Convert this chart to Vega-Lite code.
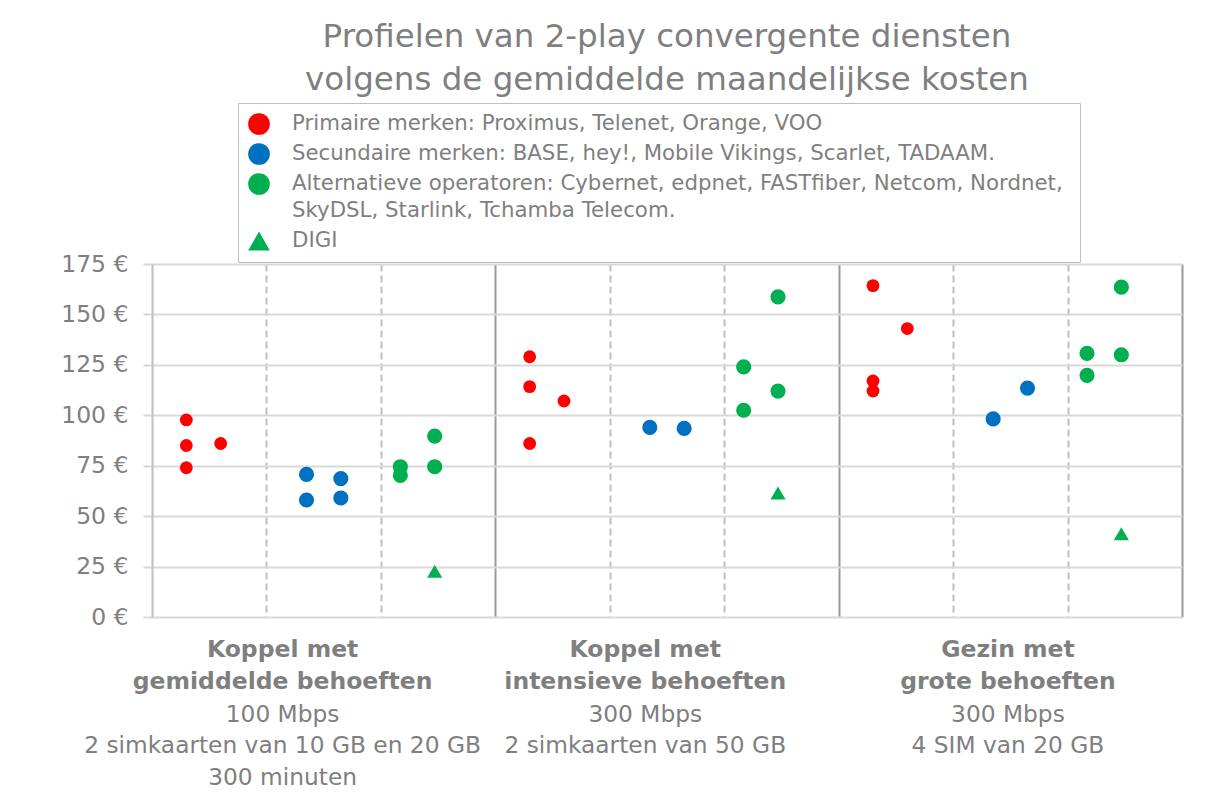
{
  "$schema": "https://vega.github.io/schema/vega-lite/v6.json",
  "autosize": {"type": "none"},
  "padding": {"left": 152, "top": 264, "right": 39, "bottom": 175},
  "width": 1030,
  "height": 353,
  "background": "white",
  "title": {
    "text": ["Profielen van 2-play convergente diensten", "volgens de gemiddelde maandelijkse kosten"],
    "font": "DejaVu Sans",
    "fontSize": 32.5,
    "fontWeight": "normal",
    "color": "#7F7F7F",
    "anchor": "middle",
    "frame": "group",
    "lineHeight": 43,
    "offset": 6
  },
  "config": {
    "view": {"stroke": null},
    "font": "DejaVu Sans",
    "style": {"guide-label": {"lineHeight": 27}}
  },
  "layer": [
    {
      "data": {
        "values": [
          {"profiel": "Koppel met gemiddelde behoeften", "x": 0.3, "prijs": 97.7, "type": "Primaire merken:  Proximus, Telenet, Orange, VOO"},
          {"profiel": "Koppel met gemiddelde behoeften", "x": 0.3, "prijs": 85.0, "type": "Primaire merken:  Proximus, Telenet, Orange, VOO"},
          {"profiel": "Koppel met gemiddelde behoeften", "x": 0.3, "prijs": 74.0, "type": "Primaire merken:  Proximus, Telenet, Orange, VOO"},
          {"profiel": "Koppel met gemiddelde behoeften", "x": 0.6, "prijs": 86.0, "type": "Primaire merken:  Proximus, Telenet, Orange, VOO"},
          {"profiel": "Koppel met gemiddelde behoeften", "x": 1.35, "prijs": 70.7, "type": "Secundaire merken: BASE, hey!, Mobile Vikings, Scarlet, TADAAM."},
          {"profiel": "Koppel met gemiddelde behoeften", "x": 1.35, "prijs": 58.0, "type": "Secundaire merken: BASE, hey!, Mobile Vikings, Scarlet, TADAAM."},
          {"profiel": "Koppel met gemiddelde behoeften", "x": 1.65, "prijs": 68.6, "type": "Secundaire merken: BASE, hey!, Mobile Vikings, Scarlet, TADAAM."},
          {"profiel": "Koppel met gemiddelde behoeften", "x": 1.65, "prijs": 59.0, "type": "Secundaire merken: BASE, hey!, Mobile Vikings, Scarlet, TADAAM."},
          {"profiel": "Koppel met gemiddelde behoeften", "x": 2.17, "prijs": 74.5, "type": "Alternatieve operatoren: Cybernet,  edpnet, FASTfiber, Netcom, Nordnet,|SkyDSL, Starlink, Tchamba Telecom."},
          {"profiel": "Koppel met gemiddelde behoeften", "x": 2.17, "prijs": 70.2, "type": "Alternatieve operatoren: Cybernet,  edpnet, FASTfiber, Netcom, Nordnet,|SkyDSL, Starlink, Tchamba Telecom."},
          {"profiel": "Koppel met gemiddelde behoeften", "x": 2.47, "prijs": 89.7, "type": "Alternatieve operatoren: Cybernet,  edpnet, FASTfiber, Netcom, Nordnet,|SkyDSL, Starlink, Tchamba Telecom."},
          {"profiel": "Koppel met gemiddelde behoeften", "x": 2.47, "prijs": 74.5, "type": "Alternatieve operatoren: Cybernet,  edpnet, FASTfiber, Netcom, Nordnet,|SkyDSL, Starlink, Tchamba Telecom."},
          {"profiel": "Koppel met gemiddelde behoeften", "x": 2.47, "prijs": 22.7, "type": "DIGI"},
          {"profiel": "Koppel met intensieve behoeften", "x": 3.3, "prijs": 129.0, "type": "Primaire merken:  Proximus, Telenet, Orange, VOO"},
          {"profiel": "Koppel met intensieve behoeften", "x": 3.3, "prijs": 114.2, "type": "Primaire merken:  Proximus, Telenet, Orange, VOO"},
          {"profiel": "Koppel met intensieve behoeften", "x": 3.3, "prijs": 86.0, "type": "Primaire merken:  Proximus, Telenet, Orange, VOO"},
          {"profiel": "Koppel met intensieve behoeften", "x": 3.6, "prijs": 107.1, "type": "Primaire merken:  Proximus, Telenet, Orange, VOO"},
          {"profiel": "Koppel met intensieve behoeften", "x": 4.35, "prijs": 94.0, "type": "Secundaire merken: BASE, hey!, Mobile Vikings, Scarlet, TADAAM."},
          {"profiel": "Koppel met intensieve behoeften", "x": 4.65, "prijs": 93.5, "type": "Secundaire merken: BASE, hey!, Mobile Vikings, Scarlet, TADAAM."},
          {"profiel": "Koppel met intensieve behoeften", "x": 5.17, "prijs": 124.0, "type": "Alternatieve operatoren: Cybernet,  edpnet, FASTfiber, Netcom, Nordnet,|SkyDSL, Starlink, Tchamba Telecom."},
          {"profiel": "Koppel met intensieve behoeften", "x": 5.17, "prijs": 102.5, "type": "Alternatieve operatoren: Cybernet,  edpnet, FASTfiber, Netcom, Nordnet,|SkyDSL, Starlink, Tchamba Telecom."},
          {"profiel": "Koppel met intensieve behoeften", "x": 5.47, "prijs": 158.7, "type": "Alternatieve operatoren: Cybernet,  edpnet, FASTfiber, Netcom, Nordnet,|SkyDSL, Starlink, Tchamba Telecom."},
          {"profiel": "Koppel met intensieve behoeften", "x": 5.47, "prijs": 112.0, "type": "Alternatieve operatoren: Cybernet,  edpnet, FASTfiber, Netcom, Nordnet,|SkyDSL, Starlink, Tchamba Telecom."},
          {"profiel": "Koppel met intensieve behoeften", "x": 5.47, "prijs": 61.5, "type": "DIGI"},
          {"profiel": "Gezin met grote behoeften", "x": 6.3, "prijs": 164.3, "type": "Primaire merken:  Proximus, Telenet, Orange, VOO"},
          {"profiel": "Gezin met grote behoeften", "x": 6.6, "prijs": 143.0, "type": "Primaire merken:  Proximus, Telenet, Orange, VOO"},
          {"profiel": "Gezin met grote behoeften", "x": 6.3, "prijs": 117.0, "type": "Primaire merken:  Proximus, Telenet, Orange, VOO"},
          {"profiel": "Gezin met grote behoeften", "x": 6.3, "prijs": 112.0, "type": "Primaire merken:  Proximus, Telenet, Orange, VOO"},
          {"profiel": "Gezin met grote behoeften", "x": 7.35, "prijs": 98.2, "type": "Secundaire merken: BASE, hey!, Mobile Vikings, Scarlet, TADAAM."},
          {"profiel": "Gezin met grote behoeften", "x": 7.65, "prijs": 113.5, "type": "Secundaire merken: BASE, hey!, Mobile Vikings, Scarlet, TADAAM."},
          {"profiel": "Gezin met grote behoeften", "x": 8.17, "prijs": 130.7, "type": "Alternatieve operatoren: Cybernet,  edpnet, FASTfiber, Netcom, Nordnet,|SkyDSL, Starlink, Tchamba Telecom."},
          {"profiel": "Gezin met grote behoeften", "x": 8.17, "prijs": 119.8, "type": "Alternatieve operatoren: Cybernet,  edpnet, FASTfiber, Netcom, Nordnet,|SkyDSL, Starlink, Tchamba Telecom."},
          {"profiel": "Gezin met grote behoeften", "x": 8.47, "prijs": 163.5, "type": "Alternatieve operatoren: Cybernet,  edpnet, FASTfiber, Netcom, Nordnet,|SkyDSL, Starlink, Tchamba Telecom."},
          {"profiel": "Gezin met grote behoeften", "x": 8.47, "prijs": 130.0, "type": "Alternatieve operatoren: Cybernet,  edpnet, FASTfiber, Netcom, Nordnet,|SkyDSL, Starlink, Tchamba Telecom."},
          {"profiel": "Gezin met grote behoeften", "x": 8.47, "prijs": 41.3, "type": "DIGI"}
        ]
      },
      "encoding": {
        "x": {
          "field": "x",
          "type": "quantitative",
          "scale": {"domain": [0, 9], "nice": false, "zero": false},
          "axis": {
            "orient": "bottom",
            "title": null,
            "labels": false,
            "ticks": false,
            "domain": false,
            "grid": true,
            "values": [1, 2, 3, 4, 5, 6, 7, 8, 9],
            "gridColor": {"condition": {"test": "datum.value % 3 === 0", "value": "#999999"}, "value": "#BFBFBF"},
            "gridDash": {"condition": {"test": "datum.value % 3 === 0", "value": []}, "value": [7, 4]},
            "gridWidth": 2
          }
        },
        "y": {
          "field": "prijs",
          "type": "quantitative",
          "scale": {"domain": [0, 175], "nice": false},
          "axis": {
            "title": null,
            "values": [0, 25, 50, 75, 100, 125, 150, 175],
            "labelExpr": "datum.value + ' €'",
            "grid": true,
            "gridColor": "#D9D9D9",
            "gridWidth": 2,
            "domainColor": "#BFBFBF",
            "domainWidth": 2,
            "tickColor": "#D9D9D9",
            "tickSize": 9,
            "tickWidth": 2,
            "labelFont": "DejaVu Sans",
            "labelFontSize": 23.5,
            "labelColor": "#7F7F7F",
            "labelPadding": 15
          }
        },
        "color": {
          "field": "type",
          "type": "nominal",
          "scale": {
            "domain": [
              "Primaire merken:  Proximus, Telenet, Orange, VOO",
              "Secundaire merken: BASE, hey!, Mobile Vikings, Scarlet, TADAAM.",
              "Alternatieve operatoren: Cybernet,  edpnet, FASTfiber, Netcom, Nordnet,|SkyDSL, Starlink, Tchamba Telecom.",
              "DIGI"
            ],
            "range": ["#FF0000", "#0070C0", "#00B050", "#00B050"]
          },
          "legend": {
            "orient": "none",
            "legendX": 86,
            "legendY": -161,
            "title": null,
            "fillColor": "white",
            "strokeColor": "#BFBFBF",
            "padding": 10,
            "labelFont": "DejaVu Sans",
            "labelFontSize": 21.3,
            "labelColor": "#7F7F7F",
            "labelLimit": 1000,
            "labelExpr": "split(datum.label, '|')",
            "labelOffset": 22,
            "symbolSize": 470,
            "symbolStrokeWidth": 0,
            "rowPadding": 8,
            "encode": {
              "symbols": {"update": {"size": {"value": 470}}},
              "labels": {
                "update": {"lineHeight": {"value": 27}, "dy": {"signal": "indexof(datum.value, '|') >= 0 ? 13.5 : 0"}}
              }
            }
          }
        },
        "shape": {
          "field": "type",
          "type": "nominal",
          "scale": {
            "domain": [
              "Primaire merken:  Proximus, Telenet, Orange, VOO",
              "Secundaire merken: BASE, hey!, Mobile Vikings, Scarlet, TADAAM.",
              "Alternatieve operatoren: Cybernet,  edpnet, FASTfiber, Netcom, Nordnet,|SkyDSL, Starlink, Tchamba Telecom.",
              "DIGI"
            ],
            "range": ["circle", "circle", "circle", "triangle-up"]
          }
        }
      },
      "layer": [
        {
          "transform": [{"filter": "indexof(datum.type, 'Primaire') === 0"}],
          "mark": {"type": "point", "filled": true, "opacity": 1, "strokeWidth": 0, "size": 165}
        },
        {
          "transform": [{"filter": "indexof(datum.type, 'Primaire') !== 0"}],
          "mark": {"type": "point", "filled": true, "opacity": 1, "strokeWidth": 0, "size": 230}
        }
      ]
    },
    {
      "data": {
        "values": [
          {"titel": "Koppel met|gemiddelde behoeften", "details": "100 Mbps|2 simkaarten van 10 GB en 20 GB|300 minuten"},
          {"titel": "Koppel met|intensieve behoeften", "details": "300 Mbps|2 simkaarten van 50 GB"},
          {"titel": "Gezin met|grote behoeften", "details": "300 Mbps|4 SIM van 20 GB"}
        ]
      },
      "mark": {"type": "point", "opacity": 0},
      "encoding": {
        "x": {
          "field": "titel",
          "type": "nominal",
          "sort": null,
          "scale": {"type": "point", "padding": 0.42, "align": 0.427},
          "axis": {
            "orient": "bottom",
            "title": null,
            "domain": false,
            "ticks": false,
            "grid": false,
            "labelAngle": 0,
            "labelFont": "DejaVu Sans",
            "labelFontWeight": "bold",
            "labelFontSize": 23.5,
            "labelColor": "#7F7F7F",
            "labelLineHeight": 32,
            "labelBaseline": "top",
            "labelPadding": 20,
            "labelLimit": 1000,
            "labelOverlap": false,
            "labelExpr": "split(datum.label, '|')"
          }
        }
      }
    },
    {
      "data": {
        "values": [
          {"titel": "Koppel met|gemiddelde behoeften", "details": "100 Mbps|2 simkaarten van 10 GB en 20 GB|300 minuten"},
          {"titel": "Koppel met|intensieve behoeften", "details": "300 Mbps|2 simkaarten van 50 GB"},
          {"titel": "Gezin met|grote behoeften", "details": "300 Mbps|4 SIM van 20 GB"}
        ]
      },
      "mark": {"type": "point", "opacity": 0},
      "encoding": {
        "x": {
          "field": "details",
          "type": "nominal",
          "sort": null,
          "scale": {"type": "point", "padding": 0.42, "align": 0.427},
          "axis": {
            "orient": "bottom",
            "title": null,
            "domain": false,
            "ticks": false,
            "grid": false,
            "labelAngle": 0,
            "labelFont": "DejaVu Sans",
            "labelFontSize": 23.3,
            "labelColor": "#7F7F7F",
            "labelLineHeight": 31.5,
            "labelBaseline": "top",
            "labelPadding": 86,
            "labelLimit": 1000,
            "labelOverlap": false,
            "labelExpr": "split(datum.label, '|')"
          }
        }
      }
    }
  ],
  "resolve": {"scale": {"x": "independent"}, "axis": {"x": "independent"}}
}
